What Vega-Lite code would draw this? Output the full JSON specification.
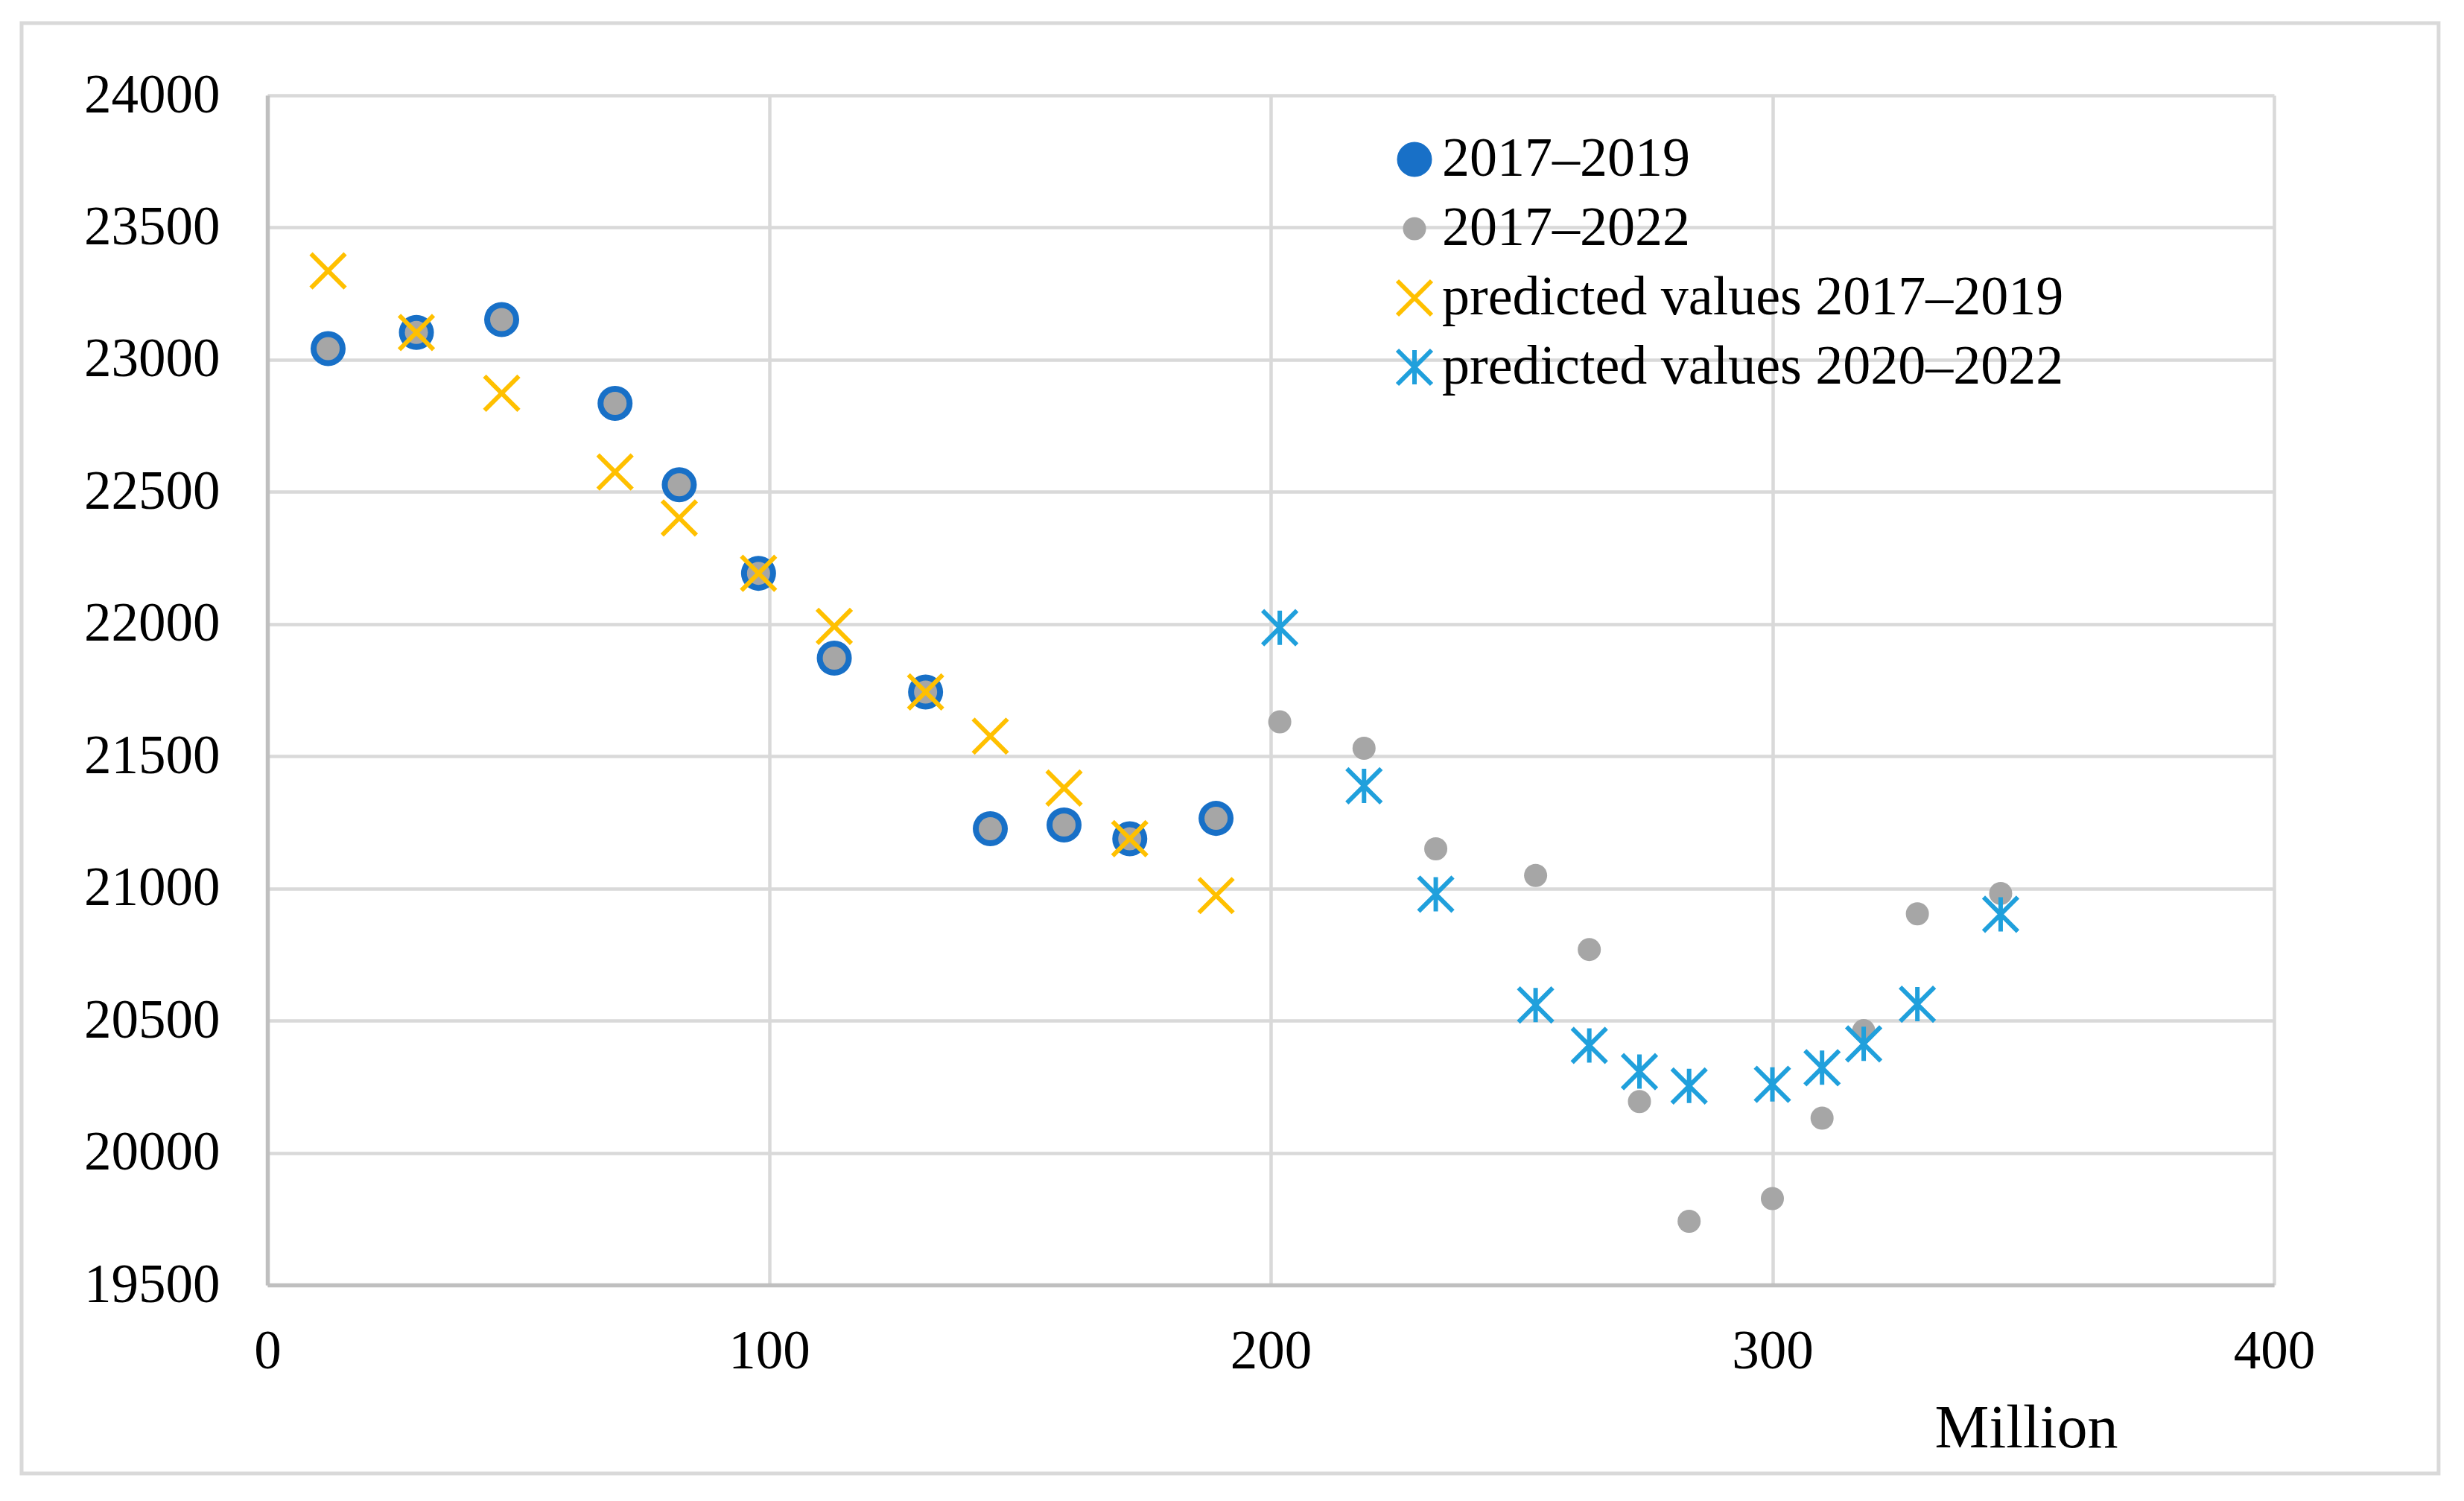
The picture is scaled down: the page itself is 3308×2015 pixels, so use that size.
{
  "$schema": "https://vega.github.io/schema/vega-lite/v6.json",
  "width": 2694,
  "height": 1597,
  "autosize": {"type": "none"},
  "padding": {"left": 359, "top": 128, "right": 255, "bottom": 290},
  "background": "white",
  "config": {"view": {"stroke": null}, "font": "Liberation Serif"},
  "layer": [
    {
      "data": {"values": [{"frame": 1}]},
      "mark": {"type": "rect", "fill": "transparent", "stroke": "#d9d9d9", "strokeWidth": 5},
      "encoding": {
        "x": {"datum": -49.0, "type": "quantitative", "title": "Million"},
        "x2": {"datum": 432.8},
        "y": {"datum": 24273, "type": "quantitative", "title": null},
        "y2": {"datum": 18787}
      }
    },
    {
      "data": {
        "values": [
          {"series": "2017–2019", "x": 12.1, "y": 23042},
          {"series": "2017–2019", "x": 29.7, "y": 23103},
          {"series": "2017–2019", "x": 46.7, "y": 23152},
          {"series": "2017–2019", "x": 69.3, "y": 22835},
          {"series": "2017–2019", "x": 82.1, "y": 22527},
          {"series": "2017–2019", "x": 97.9, "y": 22192},
          {"series": "2017–2019", "x": 113.0, "y": 21871},
          {"series": "2017–2019", "x": 131.2, "y": 21743},
          {"series": "2017–2019", "x": 144.1, "y": 21226},
          {"series": "2017–2019", "x": 158.8, "y": 21240},
          {"series": "2017–2019", "x": 171.9, "y": 21188},
          {"series": "2017–2019", "x": 189.1, "y": 21265},
          {"series": "2017–2022", "x": 12.1, "y": 23042},
          {"series": "2017–2022", "x": 29.7, "y": 23103},
          {"series": "2017–2022", "x": 46.7, "y": 23152},
          {"series": "2017–2022", "x": 69.3, "y": 22835},
          {"series": "2017–2022", "x": 82.1, "y": 22527},
          {"series": "2017–2022", "x": 97.9, "y": 22192},
          {"series": "2017–2022", "x": 113.0, "y": 21871},
          {"series": "2017–2022", "x": 131.2, "y": 21743},
          {"series": "2017–2022", "x": 144.1, "y": 21226},
          {"series": "2017–2022", "x": 158.8, "y": 21240},
          {"series": "2017–2022", "x": 171.9, "y": 21188},
          {"series": "2017–2022", "x": 189.1, "y": 21265},
          {"series": "2017–2022", "x": 201.8, "y": 21630},
          {"series": "2017–2022", "x": 218.6, "y": 21530},
          {"series": "2017–2022", "x": 232.9, "y": 21150},
          {"series": "2017–2022", "x": 252.8, "y": 21049},
          {"series": "2017–2022", "x": 263.5, "y": 20769},
          {"series": "2017–2022", "x": 273.5, "y": 20194},
          {"series": "2017–2022", "x": 283.4, "y": 19741},
          {"series": "2017–2022", "x": 300.0, "y": 19827},
          {"series": "2017–2022", "x": 309.9, "y": 20131},
          {"series": "2017–2022", "x": 318.2, "y": 20462},
          {"series": "2017–2022", "x": 328.9, "y": 20904},
          {"series": "2017–2022", "x": 345.5, "y": 20981},
          {"series": "predicted values 2017–2019", "x": 12.1, "y": 23336},
          {"series": "predicted values 2017–2019", "x": 29.7, "y": 23103},
          {"series": "predicted values 2017–2019", "x": 46.7, "y": 22873},
          {"series": "predicted values 2017–2019", "x": 69.3, "y": 22575},
          {"series": "predicted values 2017–2019", "x": 82.1, "y": 22401},
          {"series": "predicted values 2017–2019", "x": 97.9, "y": 22192},
          {"series": "predicted values 2017–2019", "x": 113.0, "y": 21991},
          {"series": "predicted values 2017–2019", "x": 131.2, "y": 21743},
          {"series": "predicted values 2017–2019", "x": 144.1, "y": 21576},
          {"series": "predicted values 2017–2019", "x": 158.8, "y": 21380},
          {"series": "predicted values 2017–2019", "x": 171.9, "y": 21188},
          {"series": "predicted values 2017–2019", "x": 189.1, "y": 20973},
          {"series": "predicted values 2020–2022", "x": 201.8, "y": 21986},
          {"series": "predicted values 2020–2022", "x": 218.6, "y": 21388},
          {"series": "predicted values 2020–2022", "x": 232.9, "y": 20978},
          {"series": "predicted values 2020–2022", "x": 252.8, "y": 20559},
          {"series": "predicted values 2020–2022", "x": 263.5, "y": 20406},
          {"series": "predicted values 2020–2022", "x": 273.5, "y": 20307},
          {"series": "predicted values 2020–2022", "x": 283.4, "y": 20253},
          {"series": "predicted values 2020–2022", "x": 300.0, "y": 20259},
          {"series": "predicted values 2020–2022", "x": 309.9, "y": 20322},
          {"series": "predicted values 2020–2022", "x": 318.2, "y": 20412},
          {"series": "predicted values 2020–2022", "x": 328.9, "y": 20562},
          {"series": "predicted values 2020–2022", "x": 345.5, "y": 20902}
        ]
      },
      "mark": {"type": "point", "opacity": 1, "strokeWidth": 6},
      "encoding": {
        "x": {
          "field": "x",
          "type": "quantitative",
          "title": "Million",
          "scale": {"domain": [0, 400], "nice": false, "zero": false},
          "axis": {
            "values": [0, 100, 200, 300, 400],
            "grid": true,
            "gridColor": "#d9d9d9",
            "gridWidth": 4.5,
            "domainColor": "#bfbfbf",
            "domainWidth": 5.5,
            "ticks": false,
            "tickSize": 0,
            "labelFont": "Liberation Serif",
            "labelFontSize": 73,
            "labelColor": "black",
            "labelPadding": 53,
            "labelLimit": 1000,
            "labelFlush": false,
            "titleFont": "Liberation Serif",
            "titleFontSize": 82,
            "titleFontWeight": "normal",
            "titleColor": "black",
            "titleX": 2361,
            "titleY": 217,
            "titleAlign": "center",
            "titleBaseline": "alphabetic"
          }
        },
        "y": {
          "field": "y",
          "type": "quantitative",
          "title": null,
          "scale": {"domain": [19500, 24000], "nice": false, "zero": false},
          "axis": {
            "values": [19500, 20000, 20500, 21000, 21500, 22000, 22500, 23000, 23500, 24000],
            "format": "d",
            "grid": true,
            "gridColor": "#d9d9d9",
            "gridWidth": 4.5,
            "domainColor": "#bfbfbf",
            "domainWidth": 5.5,
            "ticks": false,
            "tickSize": 0,
            "labelFont": "Liberation Serif",
            "labelFontSize": 73,
            "labelColor": "black",
            "labelPadding": 64,
            "labelLimit": 1000,
            "labelFlush": false
          }
        },
        "fill": {
          "field": "series",
          "type": "nominal",
          "scale": {
            "domain": ["2017–2019", "2017–2022", "predicted values 2017–2019", "predicted values 2020–2022"],
            "range": ["#1870c7", "#a6a6a6", "transparent", "transparent"]
          },
          "legend": {
            "orient": "none",
            "legendX": 1503,
            "legendY": 49,
            "title": null,
            "padding": 0,
            "labelFont": "Liberation Serif",
            "labelFontSize": 74,
            "labelColor": "black",
            "labelLimit": 3000,
            "labelOffset": 0,
            "rowPadding": 19,
            "symbolStrokeWidth": 6,
            "symbolOpacity": 1
          }
        },
        "stroke": {
          "field": "series",
          "type": "nominal",
          "scale": {
            "domain": ["2017–2019", "2017–2022", "predicted values 2017–2019", "predicted values 2020–2022"],
            "range": ["transparent", "transparent", "#ffc000", "#20a0dc"]
          }
        },
        "shape": {
          "field": "series",
          "type": "nominal",
          "scale": {
            "domain": ["2017–2019", "2017–2022", "predicted values 2017–2019", "predicted values 2020–2022"],
            "range": ["circle", "circle", "M-1,-1L1,1M1,-1L-1,1", "M-1,-1L1,1M1,-1L-1,1M0,-1L0,1"]
          }
        },
        "size": {
          "field": "series",
          "type": "nominal",
          "scale": {
            "type": "ordinal",
            "domain": ["2017–2019", "2017–2022", "predicted values 2017–2019", "predicted values 2020–2022"],
            "range": [2209, 961, 2116, 2116]
          }
        }
      }
    }
  ]
}
